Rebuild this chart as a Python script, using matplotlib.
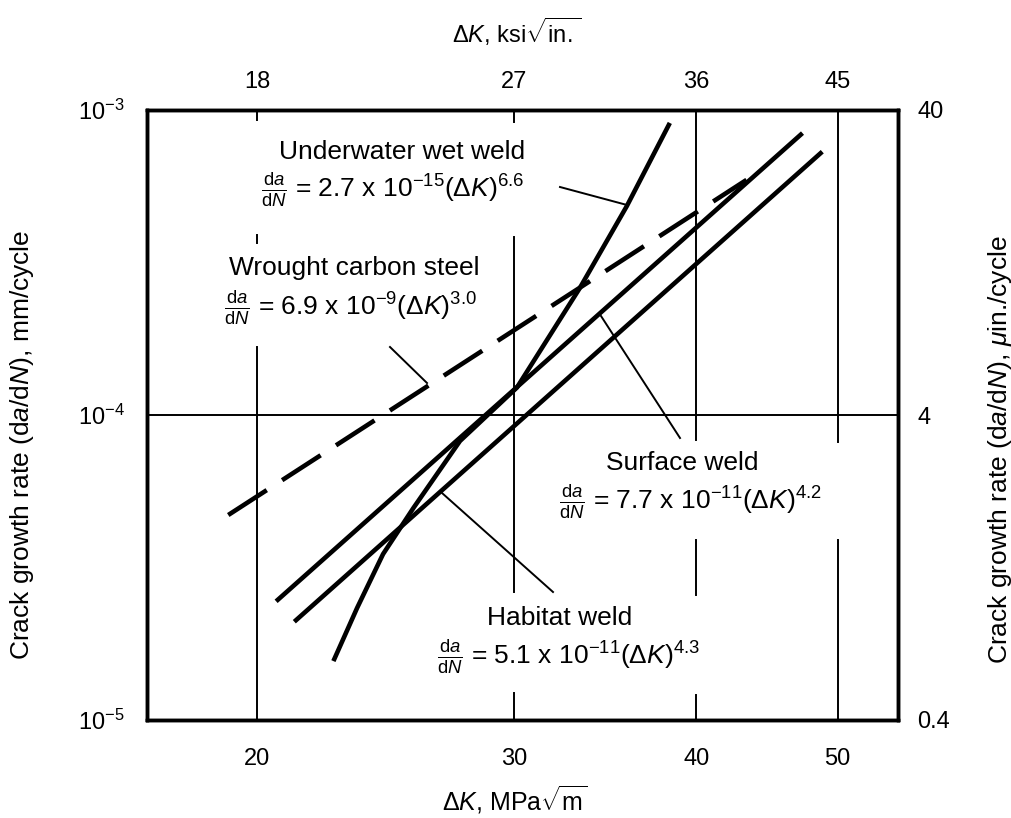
import matplotlib
matplotlib.use('Agg')
import matplotlib.pyplot as plt
from matplotlib.lines import Line2D

plt.rcParams['font.family'] = ['Liberation Sans', 'DejaVu Sans']
plt.rcParams['mathtext.fontset'] = 'custom'
plt.rcParams['mathtext.rm'] = 'Liberation Sans'
plt.rcParams['mathtext.it'] = 'Liberation Sans:italic'
plt.rcParams['mathtext.bf'] = 'Liberation Sans:bold'

# axis ticks
dk_ticks = [20, 30, 40, 50]
dk_ksi_labels = ['18', '27', '36', '45']
rate_ticks = [1e-5, 1e-4, 1e-3]
rate_mm_labels = [r'$10^{-5}$', r'$10^{-4}$', r'$10^{-3}$']
rate_uin_labels = ['0.4', '4', '40']

# curves (MPa*sqrt(m), mm/cycle)
wrought_dk = [19.1, 43.3]
wrought_rate = [4.7e-5, 5.9e-4]
surface_dk = [20.6, 47.3]
surface_rate = [2.45e-5, 8.4e-4]
habitat_dk = [21.2, 48.8]
habitat_rate = [2.1e-5, 7.3e-4]
wet_dk = [22.55, 23.41, 24.39, 25.59, 27.54, 30.13, 33.28, 35.84, 38.36]
wet_rate = [1.56e-5, 2.33e-5, 3.50e-5, 4.96e-5, 8.22e-5, 1.23e-4, 2.61e-4, 4.84e-4, 9.07e-4]

W, H = 1012, 818


def fpx(x, y):
    """pixel position (from top-left) -> figure fraction"""
    return x / W, 1 - y / H


fig = plt.figure(figsize=(W / 100, H / 100), dpi=100)
ax = fig.add_axes([147 / W, 98 / H, 751 / W, 610 / H])
ax.set_xscale('log')
ax.set_yscale('log')
ax.set_xlim(16.8, 55)
ax.set_ylim(1e-5, 1e-3)

# broken grid lines (gaps left for the labels)
grid_spans = {
    20: [(0, 0.611), (0.782, 0.795), (0.984, 1)],
    30: [(0, 0.044), (0.21, 0.792), (0.98, 1)],
    40: [(0, 0.041), (0.205, 0.295), (0.459, 1)],
    50: [(0, 0.295), (0.456, 1)],
}
for x in dk_ticks:
    for lo, hi in grid_spans[x]:
        ax.axvline(x, lo, hi, color='black', lw=1.4)
ax.axhline(1e-4, color='black', lw=1.4)

lw = 3.3
ax.plot(wrought_dk, wrought_rate, color='black', lw=lw, dashes=(10, 4),
        solid_capstyle='butt', dash_capstyle='butt')
ax.plot(surface_dk, surface_rate, color='black', lw=lw, solid_capstyle='butt')
ax.plot(habitat_dk, habitat_rate, color='black', lw=lw, solid_capstyle='butt')
ax.plot(wet_dk, wet_rate, color='black', lw=lw, solid_capstyle='butt',
        solid_joinstyle='round')

for s in ax.spines.values():
    s.set_linewidth(2.4)

ax.set_xticks(dk_ticks)
ax.set_xticklabels([str(v) for v in dk_ticks])
ax.xaxis.set_minor_locator(matplotlib.ticker.NullLocator())
ax.set_yticks(rate_ticks)
ax.set_yticklabels(rate_mm_labels)
ax.yaxis.set_minor_locator(matplotlib.ticker.NullLocator())
ax.tick_params(axis='x', length=0, pad=20, labelsize=17)
ax.tick_params(axis='y', length=0, pad=16, labelsize=17)

top = ax.twiny()
top.set_xscale('log')
top.set_xlim(ax.get_xlim())
top.set_xticks(dk_ticks)
top.set_xticklabels(dk_ksi_labels)
top.xaxis.set_minor_locator(matplotlib.ticker.NullLocator())
top.tick_params(axis='x', length=0, pad=12, labelsize=17)

right = ax.twinx()
right.set_yscale('log')
right.set_ylim(ax.get_ylim())
right.set_yticks(rate_ticks)
right.set_yticklabels(rate_uin_labels)
right.yaxis.set_minor_locator(matplotlib.ticker.NullLocator())
right.tick_params(axis='y', length=0, pad=14, labelsize=17)
for a in (top, right):
    for s in a.spines.values():
        s.set_linewidth(2.4)

# axis titles
fig.text(*fpx(515, 800), r'$\Delta K$, MPa$\sqrt{\mathrm{m}}$', ha='center', va='center', fontsize=18)
fig.text(*fpx(517, 32), r'$\Delta K$, ksi$\sqrt{\mathrm{in.}}$', ha='center', va='center', fontsize=17)
fig.text(*fpx(22, 445), r'Crack growth rate (d$a$/d$N$), mm/cycle', rotation=90,
         ha='center', va='center', fontsize=19)
fig.text(*fpx(1000, 450), r'Crack growth rate (d$a$/d$N$), $\mu$in./cycle', rotation=90,
         ha='center', va='center', fontsize=19)

# curve labels
labels = [
    ((402, 152), 'Underwater wet weld', (393, 190),
     r'$\frac{\mathrm{d}a}{\mathrm{d}N}$ = 2.7 x 10$^{-15}$($\Delta K$)$^{6.6}$'),
    ((354, 268), 'Wrought carbon steel', (350, 308),
     r'$\frac{\mathrm{d}a}{\mathrm{d}N}$ = 6.9 x 10$^{-9}$($\Delta K$)$^{3.0}$'),
    ((682, 463), 'Surface weld', (690, 502),
     r'$\frac{\mathrm{d}a}{\mathrm{d}N}$ = 7.7 x 10$^{-11}$($\Delta K$)$^{4.2}$'),
    ((560, 618), 'Habitat weld', (568, 657),
     r'$\frac{\mathrm{d}a}{\mathrm{d}N}$ = 5.1 x 10$^{-11}$($\Delta K$)$^{4.3}$'),
]
for tpos, title, fpos, formula in labels:
    fig.text(*fpx(*tpos), title, ha='center', va='center', fontsize=19)
    fig.text(*fpx(*fpos), formula, ha='center', va='center', fontsize=19)

# leader lines
leaders = [
    ((560, 187), (627, 205)),
    ((390, 347), (427, 383)),
    ((601, 316), (680, 438)),
    ((442, 493), (553, 592)),
]
for p1, p2 in leaders:
    a, b = fpx(*p1), fpx(*p2)
    fig.add_artist(Line2D([a[0], b[0]], [a[1], b[1]], color='black', lw=1.4))

fig.savefig('out.png', dpi=100, facecolor='white')
